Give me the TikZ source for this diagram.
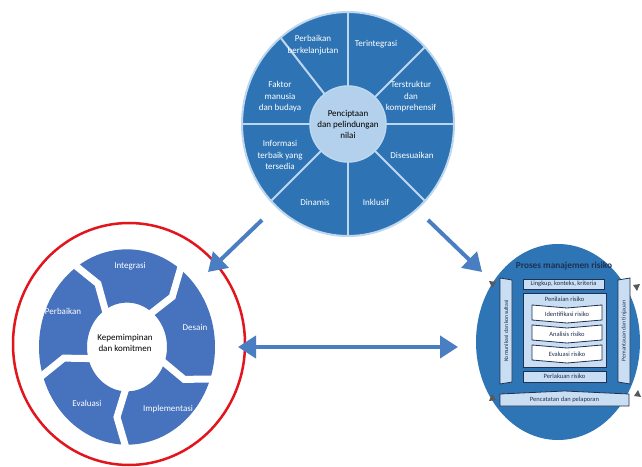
\documentclass[tikz,border=0pt]{standalone}
\usepackage{fontspec}
\setmainfont{Carlito}
\usetikzlibrary{arrows.meta,calc}
\definecolor{topblue}{HTML}{2E74B5}
\definecolor{coreblue}{HTML}{B3D0EC}
\definecolor{divblue}{HTML}{BDD7EE}
\definecolor{ringblue}{HTML}{4672BE}
\definecolor{arrowblue}{HTML}{4A7EC2}
\definecolor{rblue}{HTML}{2E75B6}
\definecolor{boxlight}{HTML}{C9DEF2}
\definecolor{navy}{HTML}{1F3050}
\definecolor{redline}{HTML}{E3151C}
\tikzset{
  seclabel/.style={text=white, align=center, font=\fontsize{9}{11.5}\selectfont, inner sep=0pt},
  ringlabel/.style={text=white, align=center, font=\fontsize{9}{11}\selectfont, inner sep=0pt},
  darklabel/.style={text=black, align=center, font=\fontsize{9}{11}\selectfont, inner sep=0pt},
  divline/.style={divblue, line width=2pt},
  bigarrow/.style={arrowblue, line width=4pt, -{Triangle[length=18pt,width=22pt]}},
  dblarrow/.style={arrowblue, line width=4pt, {Triangle[length=18pt,width=22pt]}-{Triangle[length=18pt,width=22pt]}},
  pbox/.style={fill=boxlight, draw=navy, line width=0.8pt},
  wbox/.style={fill=white, draw=navy, line width=0.8pt},
  smalltxt/.style={text=navy, font=\fontsize{6.5}{7}\selectfont, inner sep=0pt},
  bartxt/.style={text=navy, font=\fontsize{5.8}{6.5}\selectfont, inner sep=0pt},
  tri/.style={fill=black!65}
}
\begin{document}
\begin{tikzpicture}[x=1pt,y=1pt]
\useasboundingbox[fill=white] (0,0) rectangle (642,466);

% ---------- top circle ----------
\coordinate (c1) at (348,342);
\fill[topblue] (c1) ellipse [x radius=106, y radius=112];
\begin{scope}
  \clip (c1) ellipse [x radius=106, y radius=112];
  \foreach \a in {0,45,90,128,180,225,270,315}
    \draw[divline] (c1) -- ++(\a:140);
\end{scope}
\draw[divblue, line width=2pt] (c1) ellipse [x radius=106, y radius=112];
\node[circle, fill=coreblue, draw=divblue, line width=1.5pt, minimum size=76pt, darklabel] (core) at (c1) {Penciptaan\\dan pelindungan\\nilai};

\node[seclabel] (s1) at (313,421) {Perbaikan\\berkelanjutan};
\node[seclabel] (s2) at (376,422) {Terintegrasi};
\node[seclabel] (s3) at (411,369) {Terstruktur\\dan\\komprehensif};
\node[seclabel] (s4) at (412,311) {Disesuaikan};
\node[seclabel] (s5) at (376,264) {Inklusif};
\node[seclabel] (s6) at (315,264) {Dinamis};
\node[seclabel] (s7) at (280,311) {Informasi\\terbaik yang\\tersedia};
\node[seclabel] (s8) at (280,369) {Faktor\\manusia\\dan budaya};

% ---------- left cycle ----------
\coordinate (c2) at (127,119);
\begin{scope}[shift={(127,119)}, yscale=1.11]
  \fill[ringblue, even odd rule] (0,0) circle (88) (0,0) circle (40);
  \foreach \g in {270,342,54,126,198}
    \draw[white, line width=7pt, line join=miter] (\g:34) -- ({\g-9}:64) -- (\g:94);
\end{scope}
\node[darklabel] (lead) at (125,123) {Kepemimpinan\\dan komitmen};
\node[ringlabel] (r1) at (130,200) {Integrasi};
\node[ringlabel] (r2) at (195,139) {Desain};
\node[ringlabel] (r3) at (168,57) {Implementasi};
\node[ringlabel] (r4) at (87,63) {Evaluasi};
\node[ringlabel] (r5) at (63,155) {Perbaikan};
\draw[redline, line width=2.5pt] (129,122) ellipse [x radius=116, y radius=121];

% ---------- right circle ----------
\coordinate (c3) at (558,124);
\fill[rblue] (c3) ellipse [x radius=82, y radius=98];
\node[text=navy, font=\bfseries\fontsize{9.3}{10}\selectfont, inner sep=0pt] (title) at (564,200) {Proses manajemen risiko};

% side bars
\draw[pbox] (500,82) -- (512,84) -- (512,186) -- (500,188) -- cycle;
\node[bartxt, rotate=90] (kom) at (506,135) {Komunikasi dan konsultasi};
\draw[pbox] (618,84) -- (630,82) -- (630,188) -- (618,186) -- cycle;
\node[bartxt, rotate=90] (pem) at (624,135) {Pemantauan dan tinjauan};

% boxes
\draw[pbox] (523,177) rectangle (604,187);
\node[smalltxt] (lkk) at (563.5,182) {Lingkup, konteks, kriteria};
\draw[pbox] (523,99) rectangle (606,173);
\node[smalltxt] (pen) at (564.5,167) {Penilaian risiko};
\draw[wbox] (532,161) -- (567,158) -- (602,161) -- (602,146) -- (567,143) -- (532,146) -- cycle;
\node[smalltxt] (idr) at (567,152) {Identifikasi risiko};
\draw[wbox] (532,141) -- (567,138) -- (602,141) -- (602,126) -- (567,123) -- (532,126) -- cycle;
\node[smalltxt] (anr) at (567,132) {Analisis risiko};
\draw[wbox] (532,121) -- (567,118) -- (602,121) -- (602,106) -- (567,103) -- (532,106) -- cycle;
\node[smalltxt] (evr) at (567,112) {Evaluasi risiko};
\draw[pbox] (523,84) rectangle (606,95);
\node[smalltxt] (per) at (564.5,89.5) {Perlakuan risiko};
\draw[pbox] (500,60) -- (500,72) -- (564.5,75) -- (629,72) -- (629,60) -- cycle;
\node[smalltxt] (pcp) at (564.5,66) {Pencatatan dan pelaporan};

% small arrowheads at corners
\fill[tri] (489,185) -- (496,184) -- (492,178) -- cycle;
\fill[tri] (640,182) -- (633,181) -- (637,175) -- cycle;
\fill[tri] (489,65) -- (496,66) -- (492,72) -- cycle;
\fill[tri] (641,69) -- (634,70) -- (638,76) -- cycle;

% ---------- arrows ----------
\coordinate (a1s) at (262,246);
\coordinate (a1e) at (208,194);
\coordinate (a2s) at (428,246);
\coordinate (a2e) at (482,194);
\coordinate (a3s) at (238,119);
\coordinate (a3e) at (458,119);
\draw[bigarrow] (a1s) -- (a1e);
\draw[bigarrow] (a2s) -- (a2e);
\draw[dblarrow] (a3s) -- (a3e);
\end{tikzpicture}
\end{document}
